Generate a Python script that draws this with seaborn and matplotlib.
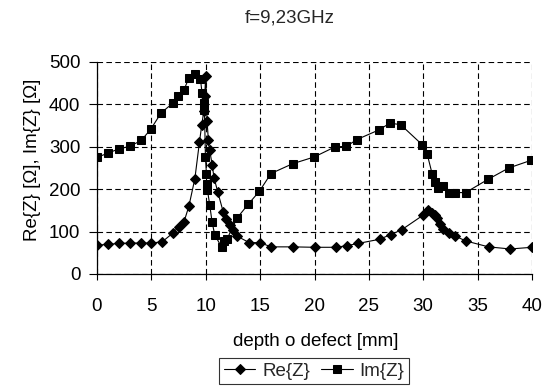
import matplotlib
matplotlib.use("Agg")
import matplotlib.pyplot as plt
import seaborn as sns
import pandas as pd

sns.set_theme(style="white")
plt.rcParams['font.family'] = ['Liberation Sans', 'DejaVu Sans']

re_x = [0, 1, 2, 3, 4, 5, 6, 7, 7.5, 8, 8.45, 9, 9.42, 9.63, 9.82, 9.9, 10.0, 10.12, 10.24,
        10.36, 10.6, 10.76, 11.1, 11.6, 11.9, 12.2, 12.5, 12.9, 14, 15, 16, 18, 20, 22, 23,
        24, 26, 27, 28, 30, 30.45, 30.85, 31.1, 31.3, 31.5, 31.85, 32.35, 32.9, 33.9, 36, 38, 40]
re_y = [68, 70, 72, 73, 73, 73, 76, 97, 111, 123, 160, 225, 311, 351, 384, 420, 468, 362, 315,
        292, 256, 227, 194, 147, 129, 115, 104, 89, 74, 74, 64, 64, 63, 63, 67,
        72, 82, 93, 104, 139, 152, 144, 139, 131, 119, 106, 96, 90, 78, 64, 59, 63]

im_x = [0, 1, 2, 3, 4.07, 4.93, 5.9, 6.97, 7.43, 7.98, 8.44, 8.99, 9.51, 9.66, 9.82, 9.88,
        9.97, 10.06, 10.08, 10.15, 10.37, 10.58, 10.83, 11.47, 11.7, 11.95, 12.88, 13.92,
        14.93, 16, 17.98, 19.97, 21.9, 22.94, 23.89, 25.94, 26.94, 27.93, 29.9, 30.37,
        30.83, 31.07, 31.38, 31.83, 32.36, 32.88, 33.89, 35.94, 37.86, 39.9]
im_y = [275, 285, 295, 301, 315, 341, 380, 403, 419, 433, 462, 472, 460, 427, 403, 387,
        276, 237, 213, 199, 162, 123, 92, 63, 78, 82, 132, 165,
        195, 237, 260, 276, 300, 301, 317, 340, 356, 352, 305, 282,
        235, 217, 204, 207, 192, 192, 192, 223, 250, 268]

title = "f=9,23GHz"
xlabel = "depth o defect [mm]"
ylabel = "Re{Z} [Ω], Im{Z} [Ω]"
labels = ["Re{Z}", "Im{Z}"]

df_re = pd.DataFrame({"x": re_x, "y": re_y})
df_im = pd.DataFrame({"x": im_x, "y": im_y})

FS = 13.5
W, H = 551, 391
fig = plt.figure(figsize=(W / 100, H / 100), dpi=100)
L, R, T, B = 97, 532, 62, 274
ax = fig.add_axes([L / W, 1 - B / H, (R - L) / W, (B - T) / H])

sns.lineplot(data=df_re, x="x", y="y", ax=ax, sort=False, estimator=None, color="black",
             linewidth=0.8, marker="D", markersize=5, markeredgecolor="black", label=labels[0])
sns.lineplot(data=df_im, x="x", y="y", ax=ax, sort=False, estimator=None, color="black",
             linewidth=0.8, marker="s", markersize=5.5, markeredgecolor="black", label=labels[1])

ax.set_xlim(0, 40)
ax.set_ylim(0, 500)
ax.set_xticks(range(0, 41, 5))
ax.set_yticks(range(0, 501, 100))
ax.grid(True, color="black", linestyle=(0, (5, 3)), linewidth=0.8)
for s in ["top", "right"]:
    ax.spines[s].set_visible(False)
for s in ["left", "bottom"]:
    ax.spines[s].set_color("black")
    ax.spines[s].set_linewidth(0.9)
ax.tick_params(axis="x", direction="out", length=4, width=0.8, color="black",
               labelsize=FS, labelcolor="black", bottom=True, pad=13)
ax.tick_params(axis="y", direction="out", length=6, width=0.8, color="black",
               labelsize=FS, labelcolor="black", left=True, pad=6)

ax.set_xlabel(xlabel, fontsize=FS, color="black")
ax.xaxis.set_label_coords((316 - L) / (R - L), (B - 342) / (B - T))
ax.xaxis.label.set_va("center")
ax.set_ylabel(ylabel, fontsize=FS, color="black")
ax.yaxis.set_label_coords((33 - L) / (R - L), (B - 160) / (B - T))
ax.yaxis.label.set_va("center")

fig.text(290 / W, 1 - 18 / H, title, ha="center", va="center", fontsize=FS)

ax.get_legend().remove()
handles, labs = ax.get_legend_handles_labels()
leg = fig.legend(handles, labs, loc="center", bbox_to_anchor=(314 / W, 1 - 371 / H),
                 ncol=2, frameon=True, fancybox=False, fontsize=FS, handlelength=1.7,
                 columnspacing=0.6, handletextpad=0.35, borderpad=0.25, edgecolor="black",
                 borderaxespad=0)
leg.get_frame().set_linewidth(0.8)

fig.savefig("out.png", dpi=100, facecolor="white")
